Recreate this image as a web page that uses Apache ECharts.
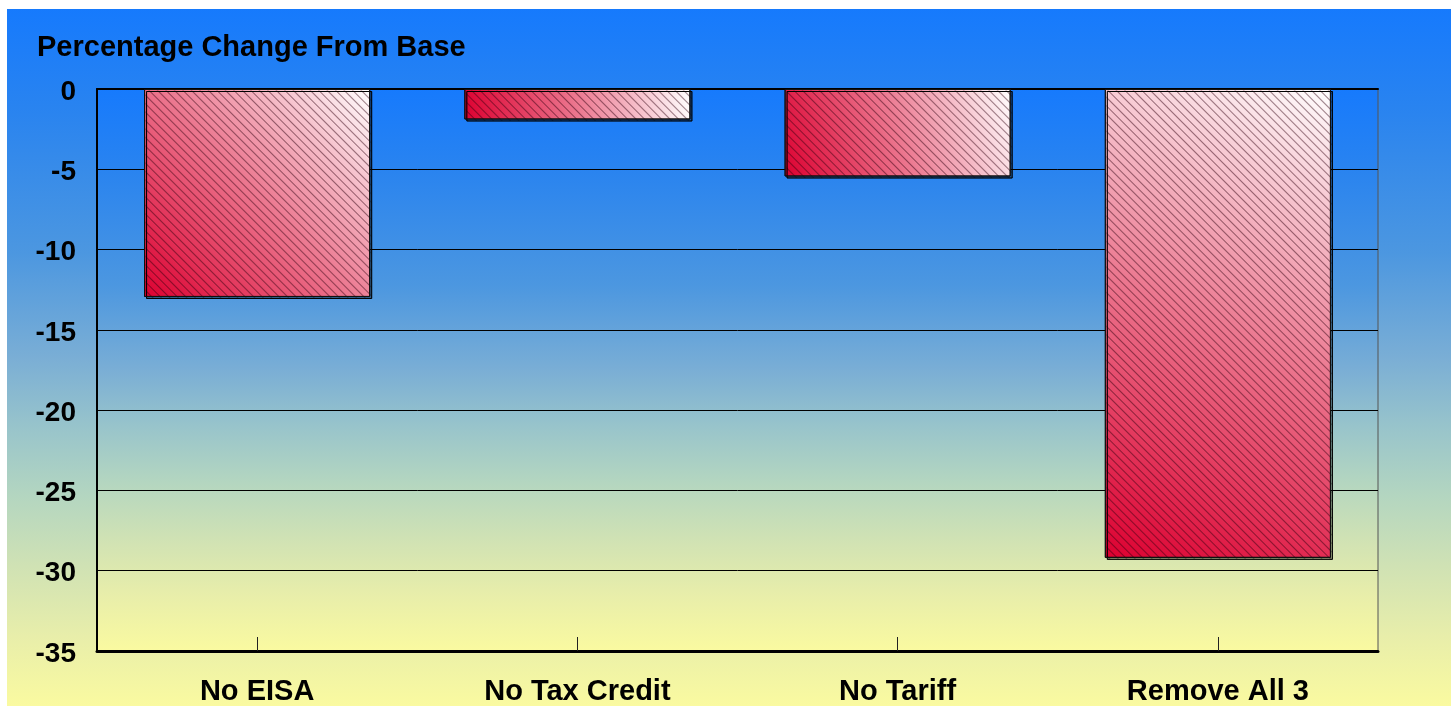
<!DOCTYPE html>
<html>
<head>
<meta charset="utf-8">
<script src="https://cdn.jsdelivr.net/npm/echarts@6/dist/echarts.min.js"></script>
<style>
html,body{margin:0;padding:0;background:#fff;}
#chart{width:1451px;height:706px;}
</style>
</head>
<body>
<div id="chart"></div>
<script>
var categories = ['No EISA', 'No Tax Credit', 'No Tariff', 'Remove All 3'];
var values = [-12.95, -1.9, -5.45, -29.2];
var yTicks = [0, -5, -10, -15, -20, -25, -30, -35];

var FONT = 'Liberation Sans, Arial, sans-serif';
var chart = echarts.init(document.getElementById('chart'));

function bgGrad() {
  return new echarts.graphic.LinearGradient(0, 0, 0, 1, [
    {offset: 0, color: '#167afd'},
    {offset: 0.15, color: '#2a84ef'},
    {offset: 0.35, color: '#4c97e0'},
    {offset: 0.5, color: '#7aaed5'},
    {offset: 0.6, color: '#98c4cb'},
    {offset: 0.7, color: '#b4d6c0'},
    {offset: 0.8, color: '#d0e2b4'},
    {offset: 0.9, color: '#e8eeaa'},
    {offset: 1, color: '#fafaa0'}
  ]);
}

var option = {
  backgroundColor: '#ffffff',
  animation: false,
  graphic: [{
    type: 'rect', z: -10, silent: true,
    shape: {x: 7, y: 9, width: 1444, height: 697},
    style: {fill: bgGrad()}
  }],
  title: {
    text: 'Percentage Change From Base',
    left: 32, top: 28,
    textStyle: {fontFamily: FONT, fontSize: 29, fontWeight: 'bold', color: '#000'}
  },
  grid: {
    left: 97, right: 73, top: 89, bottom: 55,
    show: true,
    backgroundColor: bgGrad(),
    borderColor: '#555',
    borderWidth: 1
  },
  xAxis: [{
    type: 'category',
    data: categories,
    position: 'bottom',
    z: 5,
    axisLine: {onZero: false, lineStyle: {color: '#000', width: 3}},
    axisTick: {show: true, interval: 0, alignWithLabel: true, inside: true, length: 14, lineStyle: {color: '#222', width: 1}},
    axisLabel: {fontFamily: FONT, fontSize: 29, fontWeight: 'bold', color: '#000', margin: 26}
  }, {
    type: 'category',
    data: categories,
    position: 'top',
    axisLine: {onZero: false, lineStyle: {color: '#000', width: 2}},
    axisTick: {show: false},
    axisLabel: {show: false}
  }],
  yAxis: {
    type: 'value',
    min: -35, max: 0, interval: 5,
    axisLine: {show: true, lineStyle: {color: '#000', width: 2}},
    axisTick: {show: false},
    splitLine: {lineStyle: {color: '#000', width: 1}},
    axisLabel: {
      fontFamily: FONT, fontSize: 28, fontWeight: 'bold', color: '#000', margin: 21,
      verticalAlign: 'top',
      lineHeight: 28,
      padding: [-11, 0, 0, 0],
      formatter: function (v) { return yTicks.indexOf(v) >= 0 ? String(v) : ''; }
    }
  },
  series: [{
    type: 'bar',
    data: values,
    barWidth: '70.6%',
    itemStyle: {
      color: new echarts.graphic.LinearGradient(0, 1, 1, 0, [
        {offset: 0, color: '#dc0030'},
        {offset: 0.5, color: '#ec7890'},
        {offset: 1, color: '#ffffff'}
      ]),
      borderColor: '#111',
      borderWidth: 1,
      shadowColor: 'rgba(0,0,0,0.35)',
      shadowOffsetX: 2, shadowOffsetY: 2, shadowBlur: 0,
      decal: {
        symbol: 'rect',
        symbolSize: 1,
        dashArrayX: [1, 0],
        dashArrayY: [1, 5],
        rotation: Math.PI / 4,
        color: 'rgba(90,0,30,0.28)'
      }
    }
  }]
};
chart.setOption(option);
</script>
</body>
</html>
